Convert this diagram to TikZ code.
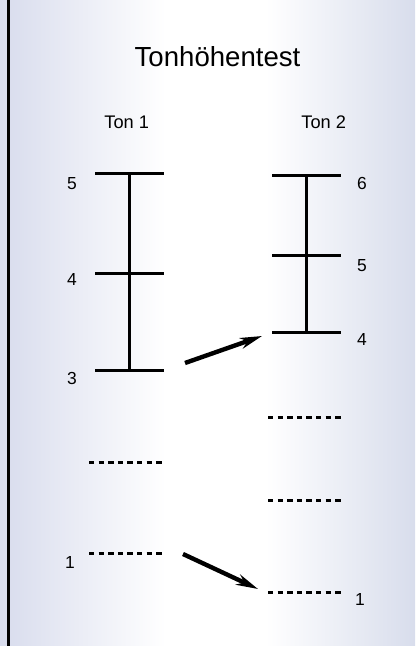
\documentclass[tikz,border=0pt]{standalone}
\usepackage{fontspec}
\setmainfont{Liberation Sans}
\usetikzlibrary{arrows.meta}

\definecolor{edgeblue}{RGB}{216,220,237}
\definecolor{edgeblueR}{RGB}{216,221,236}

% bluish at both sides, white in the middle
\pgfdeclarehorizontalshading{panelshade}{100bp}{%
  color(0bp)=(edgeblue); color(25bp)=(edgeblue);
  color(45bp)=(white); color(57bp)=(white);
  color(75bp)=(edgeblueR); color(100bp)=(edgeblueR)}

\tikzset{
  scaleline/.style={line width=3bp},
  dotline/.style={line width=3bp, dash pattern=on 5.4bp off 4.2bp},
  shiftarrow/.style={line width=4.4bp,
    -{Stealth[length=22bp,width=11bp,inset=7bp]}},
  numlabel/.style={inner sep=0pt, font=\fontsize{17.5}{18}\selectfont},
  headlabel/.style={inner sep=0pt, anchor=base, font=\fontsize{18.3}{20}\selectfont},
  titlelabel/.style={inner sep=0pt, anchor=base, font=\fontsize{27.7}{30}\selectfont},
}

\begin{document}
\begin{tikzpicture}[x=1bp,y=-1bp]
\useasboundingbox (0,0) rectangle (415,646);

% background panel
\shade[shading=panelshade] (0,0) rectangle (415,646);

% left frame line
\draw[line width=3bp] (8.5,0) -- (8.5,646);

% headings
\node[titlelabel] (title) at (217.5,67) {Tonhöhentest};
\node[headlabel] (ton1) at (126.7,128.3) {Ton 1};
\node[headlabel] (ton2) at (323.7,128.3) {Ton 2};

% scale of tone 1
\coordinate (l5) at (129.5,174);
\coordinate (l4) at (129.5,273);
\coordinate (l3) at (129.5,370);
\draw[scaleline] (l5) -- (l3);
\foreach \p in {l5,l4,l3}
  \draw[scaleline] ([xshift=-34.5bp]\p) -- ([xshift=34.5bp]\p);
\node[numlabel] (n5) at (72,183.5) {5};
\node[numlabel] (n4) at (72,280) {4};
\node[numlabel] (n3) at (72,378) {3};

% scale of tone 2
\coordinate (r6) at (306.5,176);
\coordinate (r5) at (306.5,255);
\coordinate (r4) at (306.5,332);
\draw[scaleline] (r6) -- (r4);
\foreach \p in {r6,r5,r4}
  \draw[scaleline] ([xshift=-34.5bp]\p) -- ([xshift=34.5bp]\p);
\node[numlabel] (m6) at (362,183) {6};
\node[numlabel] (m5) at (362,265.5) {5};
\node[numlabel] (m4) at (362,339) {4};

% dotted levels
\draw[dotline] (89,462) -- (163,462);
\draw[dotline] (89,553) -- (163,553);
\draw[dotline] (268,417) -- (342,417);
\draw[dotline] (268,500) -- (342,500);
\draw[dotline] (268,592) -- (342,592);
\node[numlabel] (n1) at (70,562) {1};
\node[numlabel] (m1) at (360,599) {1};

% shift arrows
\coordinate (a1s) at (185,363);
\coordinate (a1e) at (262,336);
\coordinate (a2s) at (183,554);
\coordinate (a2e) at (258,589);
\draw[shiftarrow] (a1s) -- (a1e);
\draw[shiftarrow] (a2s) -- (a2e);
\end{tikzpicture}
\end{document}
